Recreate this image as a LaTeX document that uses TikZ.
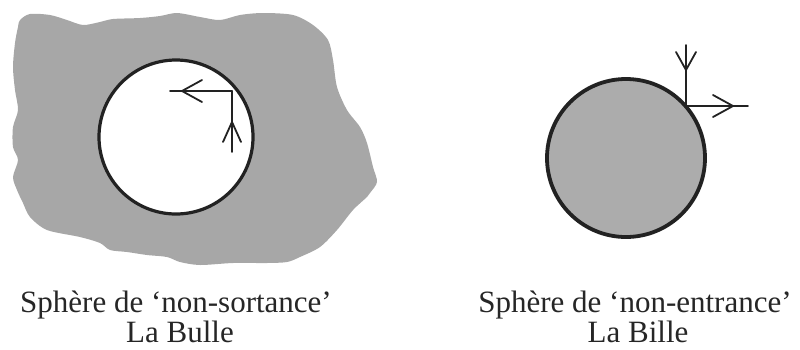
\documentclass[tikz,border=0pt]{standalone}
\usepackage{fontspec}
\setmainfont{Liberation Serif}
\definecolor{blobgray}{HTML}{A7A7A7}
\definecolor{ballgray}{HTML}{ACACAC}
\definecolor{inkc}{HTML}{222222}
\begin{document}
\begin{tikzpicture}[x=1pt,y=-1pt,
  rim/.style={draw=inkc,line width=3.2pt},
  vec/.style={draw=inkc,line width=1.8pt,line cap=round,line join=round},
  lbl/.style={font=\fontsize{31}{28}\selectfont,inner sep=0pt,anchor=base,text=black!85}]
\useasboundingbox (0,0) rectangle (800,349);
% blob
\fill[blobgray] plot[smooth cycle,tension=0.5] coordinates{
 (20,20) (30,14) (50,15) (67,20) (83,25) (100,22) (113,19) (140,18) (160,16) (177,13)
 (200,17) (220,20) (240,15) (263,13) (293,15) (313,25) (328,40) (333,60) (337,87)
 (347,110) (360,127) (367,143) (373,167) (377,182) (370,193) (367,197) (353,210)
 (337,230) (320,247) (300,257) (287,262) (267,263) (233,263) (200,265) (180,262)
 (167,257) (147,255) (127,252) (110,250) (100,243) (80,237) (47,230) (30,217)
 (23,203) (17,190) (13,177) (18,160) (13,147) (13,127) (18,110) (15,90) (13,67)
 (15,43) (18,27)};
% bubble
\fill[white] (176,137) circle[radius=77];
\draw[rim] (176,137) circle[radius=77];
\coordinate (c1) at (232,91);
\coordinate (h1) at (170,91);
\coordinate (v1) at (232,152);
\draw[vec] (c1) -- (h1);
\draw[vec] (202,80) -- (182,91) -- (202,102);
\draw[vec] (v1) -- (c1);
\draw[vec] (223,142) -- (232,122) -- (241,142);
% ball
\fill[ballgray] (626,158) circle[radius=79];
\draw[rim,line width=3.8pt] (626,158) circle[radius=79];
\coordinate (c2) at (686,106);
\coordinate (v2) at (686,45);
\coordinate (h2) at (748,106);
\draw[vec] (v2) -- (c2) -- (h2);
\draw[vec] (676,52) -- (686,70) -- (696,52);
\draw[vec] (713,95) -- (733,106) -- (713,117);
% labels
\node[lbl] (t1) at (176,312) {Sphère de ‘non-sortance’};
\node[lbl] (t2) at (180,342) {La Bulle};
\node[lbl] (t3) at (635,312) {Sphère de ‘non-entrance’};
\node[lbl] (t4) at (638,342) {La Bille};
\end{tikzpicture}
\end{document}
